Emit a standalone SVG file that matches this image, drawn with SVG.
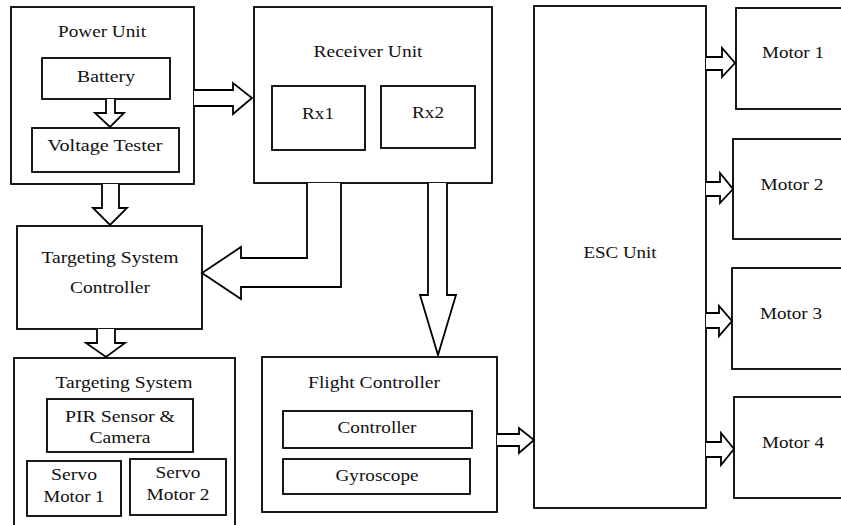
<svg xmlns="http://www.w3.org/2000/svg" width="841" height="525" viewBox="0 0 841 525">
<style>
rect{fill:#fff;stroke:#000;stroke-width:1.8}
.c path{fill:#fff;stroke:#000;stroke-width:1.8;stroke-linejoin:miter}
.t text{font-size:17.5px;fill:#111;text-anchor:middle}
</style>
<rect x="0" y="0" width="841" height="525" style="stroke:none"/>
<g class="t" font-family="Liberation Serif, DejaVu Serif, serif">
<g id="power-unit">
<rect x="11" y="7" width="183" height="177"/>
<text x="102" y="37" textLength="88" lengthAdjust="spacingAndGlyphs">Power Unit</text>
</g>
<g id="battery">
<rect x="42" y="58" width="128" height="41"/>
<text x="106" y="82" textLength="58" lengthAdjust="spacingAndGlyphs">Battery</text>
</g>
<g id="voltage-tester">
<rect x="32" y="128" width="147" height="44"/>
<text x="105" y="151" textLength="115" lengthAdjust="spacingAndGlyphs">Voltage Tester</text>
</g>
<g id="receiver-unit">
<rect x="254" y="7" width="238" height="176"/>
<text x="368" y="57" textLength="109" lengthAdjust="spacingAndGlyphs">Receiver Unit</text>
</g>
<g id="rx1">
<rect x="272" y="86" width="93" height="64"/>
<text x="318" y="119" textLength="32" lengthAdjust="spacingAndGlyphs">Rx1</text>
</g>
<g id="rx2">
<rect x="381" y="86" width="94" height="62"/>
<text x="428" y="118" textLength="32" lengthAdjust="spacingAndGlyphs">Rx2</text>
</g>
<g id="targeting-system-controller">
<rect x="17" y="226" width="185" height="103"/>
<text x="110" y="263" textLength="137" lengthAdjust="spacingAndGlyphs">Targeting System</text>
<text x="110" y="293" textLength="80" lengthAdjust="spacingAndGlyphs">Controller</text>
</g>
<g id="targeting-system">
<rect x="14" y="358" width="221" height="175"/>
<text x="124" y="388" textLength="137" lengthAdjust="spacingAndGlyphs">Targeting System</text>
</g>
<g id="pir-sensor-camera">
<rect x="47" y="399" width="146" height="53"/>
<text x="120" y="422" textLength="110" lengthAdjust="spacingAndGlyphs">PIR Sensor &amp;</text>
<text x="120" y="443" textLength="61" lengthAdjust="spacingAndGlyphs">Camera</text>
</g>
<g id="servo-motor-1">
<rect x="27" y="461" width="94" height="55"/>
<text x="74" y="480" textLength="46" lengthAdjust="spacingAndGlyphs">Servo</text>
<text x="74" y="502" textLength="61" lengthAdjust="spacingAndGlyphs">Motor 1</text>
</g>
<g id="servo-motor-2">
<rect x="130" y="459" width="96" height="56"/>
<text x="178" y="478" textLength="45" lengthAdjust="spacingAndGlyphs">Servo</text>
<text x="178" y="500" textLength="63" lengthAdjust="spacingAndGlyphs">Motor 2</text>
</g>
<g id="flight-controller">
<rect x="262" y="357" width="235" height="155"/>
<text x="374" y="388" textLength="132" lengthAdjust="spacingAndGlyphs">Flight Controller</text>
</g>
<g id="controller">
<rect x="283" y="411" width="189" height="37"/>
<text x="377" y="433" textLength="79" lengthAdjust="spacingAndGlyphs">Controller</text>
</g>
<g id="gyroscope">
<rect x="283" y="459" width="187" height="35"/>
<text x="377" y="481" textLength="83" lengthAdjust="spacingAndGlyphs">Gyroscope</text>
</g>
<g id="esc-unit">
<rect x="534" y="6" width="172" height="502"/>
<text x="620" y="258" textLength="73" lengthAdjust="spacingAndGlyphs">ESC Unit</text>
</g>
<g id="motor-1">
<rect x="736" y="8" width="110" height="101"/>
<text x="793" y="58" textLength="62" lengthAdjust="spacingAndGlyphs">Motor 1</text>
</g>
<g id="motor-2">
<rect x="733" y="139" width="113" height="100"/>
<text x="792" y="190" textLength="63" lengthAdjust="spacingAndGlyphs">Motor 2</text>
</g>
<g id="motor-3">
<rect x="732" y="268" width="114" height="101"/>
<text x="791" y="319" textLength="62" lengthAdjust="spacingAndGlyphs">Motor 3</text>
</g>
<g id="motor-4">
<rect x="734" y="397" width="112" height="101"/>
<text x="793" y="448" textLength="62" lengthAdjust="spacingAndGlyphs">Motor 4</text>
</g>
</g>
<g id="connectors" class="c">
<path d="M106,99 V113 H95 L110,127 L124,113 H115 V99"/>
<path d="M194,90 H233 V83 L252,98 L233,114 V106 H194"/>
<path d="M102,184 V208 H93 L110,225 L127,208 H119 V184"/>
<path d="M97,329 V343 H86 L106,357 L125,343 H115 V329"/>
<path d="M307,183 V258 H241 V247 L202,273 L241,299 V287 H341 V183"/>
<path d="M428,183 V295 H420 L438,355 L456,295 H447 V183"/>
<path d="M497,434 H519 V428 L534,440 L519,453 V446 H497"/>
<path d="M706,57 H722 V48 L735,63 L722,77 V70 H706"/>
<path d="M706,182 H720 V173 L733,189 L720,203 V196 H706"/>
<path d="M706,313 H719 V306 L732,321 L719,336 V328 H706"/>
<path d="M706,442 H721 V433 L734,449 L721,465 V457 H706"/>
</g>
</svg>
